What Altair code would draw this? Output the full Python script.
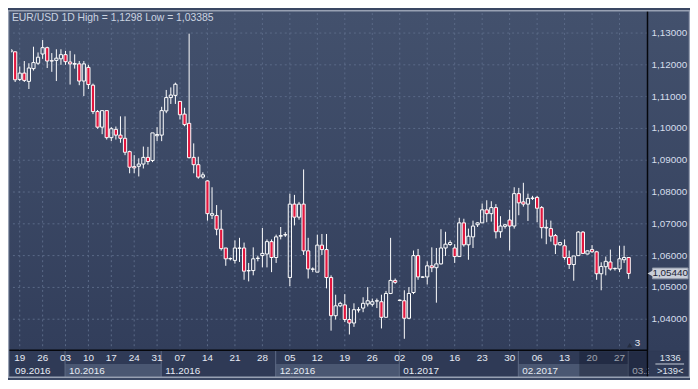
import altair as alt
import pandas as pd

# ---------------- data ----------------
bar_index = list(range(136))
opens = [1.1241, 1.1241, 1.1154, 1.1174, 1.1148, 1.1188, 1.1205, 1.1234, 1.1254, 1.1213,
         1.1214, 1.1219, 1.1232, 1.1209, 1.1202, 1.1203, 1.1149, 1.1192, 1.1136, 1.1053,
         1.1004, 1.1056, 1.0971, 1.0997, 1.0979, 1.0969, 1.0927, 1.0880, 1.0881, 1.0888,
         1.0909, 1.0899, 1.0977, 1.0979, 1.1055, 1.1097, 1.1104, 1.1085, 1.1045, 1.1016,
         1.0909, 1.0886, 1.0847, 1.0835, 1.0727, 1.0726, 1.0683, 1.0624, 1.0590, 1.0585,
         1.0623, 1.0624, 1.0552, 1.0553, 1.0591, 1.0600, 1.0605, 1.0644, 1.0594, 1.0661,
         1.0665, 1.0531, 1.0762, 1.0721, 1.0762, 1.0615, 1.0557, 1.0548, 1.0633, 1.0619,
         1.0531, 1.0411, 1.0442, 1.0445, 1.0399, 1.0388, 1.0429, 1.0435, 1.0448, 1.0447,
         1.0457, 1.0455, 1.0406, 1.0481, 1.0522, 1.0459, 1.0458, 1.0403, 1.0484, 1.0600,
         1.0532, 1.0533, 1.0568, 1.0562, 1.0574, 1.0624, 1.0635, 1.0624, 1.0597, 1.0703,
         1.0634, 1.0659, 1.0697, 1.0703, 1.0744, 1.0732, 1.0751, 1.0675, 1.0692, 1.0712,
         1.0693, 1.0795, 1.0769, 1.0762, 1.0780, 1.0783, 1.0751, 1.0687, 1.0685, 1.0663,
         1.0634, 1.0631, 1.0594, 1.0572, 1.0600, 1.0674, 1.0605, 1.0619, 1.0612, 1.0543,
         1.0565, 1.0580, 1.0559, 1.0558, 1.0587, 1.0594]
highs = [1.1248, 1.1242, 1.1195, 1.1212, 1.1205, 1.1257, 1.1239, 1.1278, 1.1257, 1.1237,
         1.1249, 1.1249, 1.1244, 1.1244, 1.1233, 1.1212, 1.1212, 1.1200, 1.1141, 1.1058,
         1.1056, 1.1056, 1.1004, 1.1006, 1.1038, 1.1038, 1.0930, 1.0916, 1.0906, 1.0943,
         1.0942, 1.0986, 1.1004, 1.1068, 1.1121, 1.1129, 1.1144, 1.1085, 1.1065, 1.1298,
         1.0953, 1.0911, 1.0862, 1.0837, 1.0815, 1.0759, 1.0744, 1.0624, 1.0594, 1.0648,
         1.0656, 1.0641, 1.0577, 1.0626, 1.0600, 1.0687, 1.0651, 1.0651, 1.0666, 1.0690,
         1.0674, 1.0795, 1.0791, 1.0769, 1.0871, 1.0656, 1.0563, 1.0666, 1.0668, 1.0668,
         1.0538, 1.0477, 1.0455, 1.0479, 1.0435, 1.0450, 1.0438, 1.0469, 1.0501, 1.0465,
         1.0465, 1.0477, 1.0489, 1.0656, 1.0528, 1.0462, 1.0491, 1.0501, 1.0616, 1.0621,
         1.0535, 1.0582, 1.0626, 1.0624, 1.0683, 1.0675, 1.0648, 1.0636, 1.0719, 1.0716,
         1.0685, 1.0710, 1.0705, 1.0764, 1.0774, 1.0771, 1.0762, 1.0724, 1.0700, 1.0744,
         1.0815, 1.0813, 1.0829, 1.0795, 1.0788, 1.0788, 1.0756, 1.0713, 1.0710, 1.0668,
         1.0643, 1.0651, 1.0616, 1.0599, 1.0677, 1.0677, 1.0616, 1.0633, 1.0615, 1.0579,
         1.0597, 1.0619, 1.0562, 1.0631, 1.0631, 1.0594]
lows = [1.1240, 1.1146, 1.1149, 1.1146, 1.1124, 1.1182, 1.1200, 1.1219, 1.1190, 1.1178,
        1.1149, 1.1200, 1.1200, 1.1138, 1.1188, 1.1136, 1.1102, 1.1124, 1.1045, 1.0999,
        1.0982, 1.0965, 1.0960, 1.0965, 1.0955, 1.0916, 1.0859, 1.0859, 1.0849, 1.0874,
        1.0886, 1.0894, 1.0960, 1.0960, 1.1048, 1.1077, 1.1077, 1.1028, 1.1007, 1.0906,
        1.0859, 1.0842, 1.0842, 1.0710, 1.0715, 1.0664, 1.0616, 1.0568, 1.0585, 1.0575,
        1.0580, 1.0524, 1.0519, 1.0538, 1.0582, 1.0563, 1.0563, 1.0548, 1.0577, 1.0651,
        1.0659, 1.0504, 1.0695, 1.0713, 1.0602, 1.0528, 1.0548, 1.0548, 1.0602, 1.0497,
        1.0364, 1.0399, 1.0438, 1.0391, 1.0352, 1.0376, 1.0421, 1.0422, 1.0440, 1.0440,
        1.0435, 1.0371, 1.0406, 1.0479, 1.0511, 1.0457, 1.03385, 1.0401, 1.0479, 1.0524,
        1.0530, 1.0509, 1.0548, 1.0452, 1.0572, 1.0599, 1.0631, 1.0577, 1.0597, 1.0628,
        1.0587, 1.0624, 1.0690, 1.0703, 1.0705, 1.0707, 1.0654, 1.0656, 1.0685, 1.0616,
        1.0685, 1.0727, 1.0754, 1.0709, 1.0775, 1.0705, 1.0654, 1.0636, 1.0644, 1.0605,
        1.0631, 1.0587, 1.0558, 1.0521, 1.0600, 1.0605, 1.0604, 1.0609, 1.0524, 1.0491,
        1.0538, 1.0553, 1.0553, 1.0548, 1.0577, 1.0527]
closes = [1.1247, 1.1153, 1.1174, 1.1151, 1.1190, 1.1207, 1.1224, 1.1254, 1.1212, 1.1212,
          1.1221, 1.1232, 1.1210, 1.1203, 1.1204, 1.1149, 1.1203, 1.1138, 1.1053, 1.1004,
          1.1056, 1.0971, 1.0999, 1.0979, 1.0969, 1.0925, 1.0878, 1.0876, 1.0888, 1.0909,
          1.0896, 1.0986, 1.0981, 1.1056, 1.1097, 1.1105, 1.1139, 1.1043, 1.1012, 1.0908,
          1.0886, 1.0847, 1.0854, 1.0732, 1.0732, 1.0683, 1.0622, 1.0590, 1.0591, 1.0624,
          1.0624, 1.0551, 1.0553, 1.0590, 1.0592, 1.0607, 1.0644, 1.0594, 1.0659, 1.0663,
          1.0666, 1.0762, 1.0721, 1.0762, 1.0615, 1.0558, 1.0558, 1.0633, 1.0619, 1.0531,
          1.0411, 1.0442, 1.0450, 1.0399, 1.0388, 1.0430, 1.0430, 1.0450, 1.0458, 1.0455,
          1.0458, 1.0406, 1.0481, 1.0522, 1.0516, 1.0460, 1.0403, 1.0481, 1.0600, 1.0533,
          1.0533, 1.0568, 1.0562, 1.0574, 1.0624, 1.0636, 1.0641, 1.0597, 1.0703, 1.0634,
          1.0661, 1.0693, 1.0703, 1.0744, 1.0732, 1.0751, 1.0675, 1.0693, 1.0697, 1.0693,
          1.0795, 1.0766, 1.0762, 1.0780, 1.0781, 1.0749, 1.0688, 1.0689, 1.0661, 1.0634,
          1.0641, 1.0594, 1.0572, 1.0599, 1.0674, 1.0607, 1.0615, 1.0612, 1.0543, 1.0566,
          1.0582, 1.0558, 1.0560, 1.0590, 1.0594, 1.0544]

week_index = [2, 7, 12, 17, 22, 27, 32, 37, 43, 49, 55, 61, 67, 73, 79, 85, 91, 97,
              103, 109, 115, 121, 127, 133]
week_labels = ["19", "26", "03", "10", "17", "24", "31", "07", "14", "21", "28", "05",
               "12", "19", "26", "02", "09", "16", "23", "30", "06", "13", "20", "27"]
month_labels = ["09.2016", "10.2016", "11.2016", "12.2016", "01.2017", "02.2017", "03.2017"]
month_start = [0.085, 11.9, 32.9, 57.9, 84.9, 110.9, 134.9]
price_ticks = [1.04, 1.05, 1.06, 1.07, 1.08, 1.09, 1.10, 1.11, 1.12, 1.13]
title_text = "EUR/USD 1D High = 1,1298 Low = 1,03385"
last_price = [1.0544]
visible_bars = ">139<"
counter_text = "1336"
shift_text = "3"

# ---------------- layout / style ----------------
W, H = 644, 341
RP, BP = 43, 28
X_DOMAIN = [0.085, 139.11]
Y_DOMAIN = [1.030265, 1.136265]
xs = alt.Scale(domain=X_DOMAIN, nice=False, zero=False)
ys = alt.Scale(domain=Y_DOMAIN, nice=False, zero=False)
FONT = "Liberation Sans"
GRID = "#5b6a88"
RED = "#e2163e"
AXIS_BG = "#2f3a56"
FMT = "replace(format(datum.p, '.5f'), '.', ',')"

one = pd.DataFrame({"a": [0]})
candles = pd.DataFrame({"i": bar_index, "open": opens, "high": highs,
                        "low": lows, "close": closes})
weeks = pd.DataFrame({"i": week_index, "lbl": week_labels})
months = pd.DataFrame({"start": month_start, "lbl": month_labels})
months["end"] = list(month_start[1:]) + [X_DOMAIN[1]]
months["alt"] = [k % 2 for k in range(len(months))]
months["last"] = [0] * (len(months) - 1) + [1]
ticks = pd.DataFrame({"p": price_ticks})
lastp = pd.DataFrame({"p": last_price})

grad = alt.Gradient(gradient="linear",
                    stops=[alt.GradientStop(color="#43516d", offset=0),
                           alt.GradientStop(color="#323e5b", offset=1)],
                    x1=0, x2=0, y1=0, y2=1)

bg = alt.Chart(one).mark_rect(fill=grad).encode(
    x=alt.value(-3), x2=alt.value(W + RP), y=alt.value(-3), y2=alt.value(H))
axis_bg = alt.Chart(one).mark_rect(fill=AXIS_BG).encode(
    x=alt.value(-3), x2=alt.value(W + RP), y=alt.value(H), y2=alt.value(H + BP))

month_box = alt.Chart(months).transform_filter("datum.alt == 1").mark_rect(
    fill="#4a5772").encode(
    x=alt.X("start:Q", scale=xs, axis=None), x2="end:Q",
    y=alt.value(H + 14), y2=alt.value(H + BP - 1))
month_sep = alt.Chart(months).transform_filter("datum.start > 1").mark_rule(
    color="#5f6b86", strokeWidth=1).encode(
    x=alt.X("start:Q", scale=xs, axis=None), y=alt.value(H), y2=alt.value(H + BP - 1))

grid_v = alt.Chart(weeks).mark_rule(color=GRID, strokeDash=[2, 3], strokeWidth=1).encode(
    x=alt.X("i:Q", scale=xs, axis=None))
grid_h = alt.Chart(ticks).mark_rule(color=GRID, strokeDash=[2, 3], strokeWidth=1).encode(
    y=alt.Y("p:Q", scale=ys, axis=None))
y_labels = alt.Chart(ticks).transform_calculate(lbl=FMT).mark_text(
    font=FONT, fontSize=10, color="#d6deec", align="left", baseline="middle").encode(
    x=alt.value(W + 4), y=alt.Y("p:Q", scale=ys, axis=None), text="lbl:N")

base = alt.Chart(candles).transform_calculate(
    bt="max(datum.open, datum.close)",
    bb="min(datum.open, datum.close)",
    x1="datum.i - 0.35",
    x2="datum.i + 0.35")

wick_up = base.mark_rule(color="white", strokeWidth=1, clip=True).encode(
    x=alt.X("i:Q", scale=xs, axis=None),
    y=alt.Y("high:Q", scale=ys, axis=None), y2="bt:Q")
wick_dn = base.mark_rule(color="white", strokeWidth=1, clip=True).encode(
    x=alt.X("i:Q", scale=xs, axis=None),
    y=alt.Y("bb:Q", scale=ys, axis=None), y2="low:Q")
body = base.mark_rect(stroke="white", strokeWidth=1, clip=True).encode(
    x=alt.X("x1:Q", scale=xs, axis=None), x2="x2:Q",
    y=alt.Y("bt:Q", scale=ys, axis=None), y2="bb:Q",
    fill=alt.condition("datum.close < datum.open", alt.value(RED), alt.value("transparent")))

line_v = alt.Chart(one).mark_rule(color="#05070c", strokeWidth=1.5).encode(
    x=alt.value(W), y=alt.value(-3), y2=alt.value(H + BP))
line_h = alt.Chart(one).mark_rule(color="#05070c", strokeWidth=1.5).encode(
    x=alt.value(-3), x2=alt.value(W), y=alt.value(H))

day_text = alt.Chart(weeks).mark_text(font=FONT, fontSize=10, color="#e6ebf3",
                                      baseline="middle").encode(
    x=alt.X("i:Q", scale=xs, axis=None), y=alt.value(H + 8), text="lbl:N")
month_text = alt.Chart(months).transform_filter("datum.last == 0").mark_text(
    font=FONT, fontSize=10, color="#e6ebf3", baseline="middle", align="left", dx=4).encode(
    x=alt.X("start:Q", scale=xs, axis=None), y=alt.value(H + 21), text="lbl:N")
month_text_last = alt.Chart(months).transform_filter("datum.last == 1").transform_calculate(
    short="substring(datum.lbl, 0, 4)").mark_text(
    font=FONT, fontSize=10, color="#e6ebf3", baseline="middle", align="left", dx=4).encode(
    x=alt.X("start:Q", scale=xs, axis=None), y=alt.value(H + 21), text="short:N")

overlay = alt.Chart(one).mark_rect(fill="#0c1222", opacity=0.35).encode(
    x=alt.value(W * 124.2 / 139.1), x2=alt.value(W), y=alt.value(H + 1),
    y2=alt.value(H + BP - 1))

rb_panel = alt.Chart(one).mark_rect(fill=AXIS_BG).encode(
    x=alt.value(W + 1), x2=alt.value(W + RP), y=alt.value(H + 1), y2=alt.value(H + BP))
rb_sep = alt.Chart(one).mark_rule(color="#c9cfdb", strokeWidth=1).encode(
    x=alt.value(W + 8), x2=alt.value(W + 37), y=alt.value(H + 14))
rb_t1 = alt.Chart(pd.DataFrame({"t": [counter_text]})).mark_text(
    font=FONT, fontSize=9.5, color="#dfe4ee", baseline="middle").encode(
    x=alt.value(W + 23), y=alt.value(H + 7.5), text="t:N")
rb_t2 = alt.Chart(pd.DataFrame({"t": [visible_bars]})).mark_text(
    font=FONT, fontSize=9.5, color="#dfe4ee", baseline="middle").encode(
    x=alt.value(W + 23), y=alt.value(H + 21), text="t:N")

shift_mark = alt.Chart(pd.DataFrame({"t": [shift_text]})).mark_text(
    font=FONT, fontSize=10, color="#e6ebf3", baseline="middle").encode(
    x=alt.value(W - 10), y=alt.value(H - 7), text="t:N")
shift_tri = alt.Chart(one).mark_point(shape="triangle-up", filled=True, size=30,
                                      color="#252d40", opacity=1).encode(
    x=alt.value(W - 18), y=alt.value(H - 5))

tag = alt.Chart(lastp).transform_calculate(
    lo="datum.p - 0.0017", hi="datum.p + 0.0017").mark_rect(
    fill="#c9ced8", stroke="#9299a8", strokeWidth=1).encode(
    x=alt.value(W + 5), x2=alt.value(W + 41),
    y=alt.Y("lo:Q", scale=ys, axis=None), y2="hi:Q")
tag_tri = alt.Chart(lastp).mark_point(shape="triangle-left", filled=True, size=45,
                                      color="#c9ced8", opacity=1).encode(
    x=alt.value(W + 3), y=alt.Y("p:Q", scale=ys, axis=None))
tag_text = alt.Chart(lastp).transform_calculate(lbl=FMT).mark_text(
    font=FONT, fontSize=10, color="#1b2233", baseline="middle").encode(
    x=alt.value(W + 23), y=alt.Y("p:Q", scale=ys, axis=None), text="lbl:N")

title = alt.Chart(pd.DataFrame({"t": [title_text]})).mark_text(
    font=FONT, fontSize=10.5, color="#cbd3e0", align="left", baseline="middle").encode(
    x=alt.value(1), y=alt.value(5), text="t:N")

frame = alt.Chart(one).mark_rect(fill="transparent", stroke="#98a1b3", strokeWidth=1.5).encode(
    x=alt.value(-2.5), x2=alt.value(W + RP - 0.5), y=alt.value(-2.5), y2=alt.value(H + BP - 0.5))

chart = alt.layer(
    bg, axis_bg, month_box, month_sep, grid_v, grid_h,
    wick_up, wick_dn, body,
    day_text, month_text, month_text_last, overlay, line_h, line_v,
    rb_panel, rb_sep, rb_t1, rb_t2, shift_tri, shift_mark,
    y_labels, tag, tag_tri, tag_text, title, frame
).properties(
    width=W, height=H,
    autosize=alt.AutoSizeParams(type="none"),
    padding={"left": 3, "top": 3, "right": RP, "bottom": BP},
).configure_view(stroke=None).configure(background="#3a4763")

chart.save("out.html", embed_options={"renderer": "svg", "actions": False})
